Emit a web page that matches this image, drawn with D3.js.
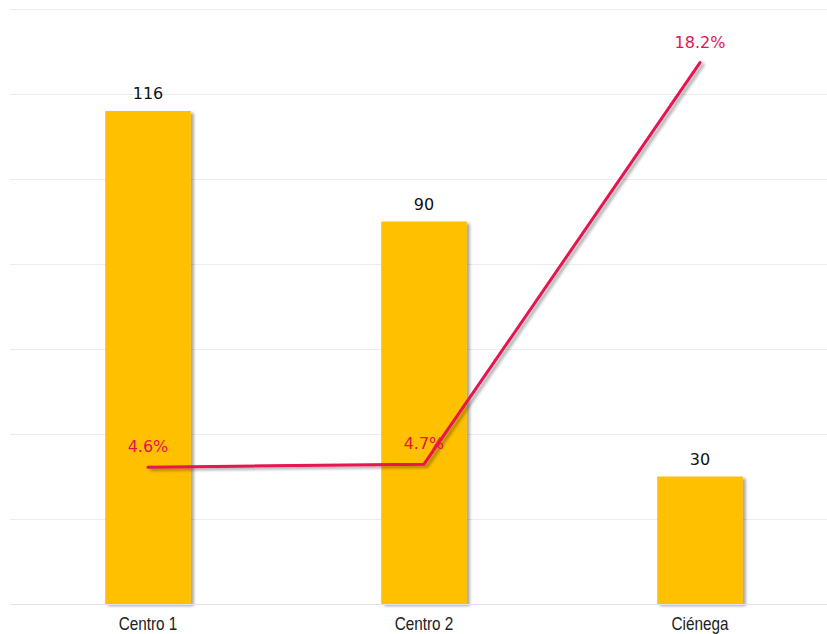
<!DOCTYPE html>
<meta charset="utf-8">
<style>
    body { margin: 0; background: #fff; }
    .grid line { stroke: #ececec; stroke-width: 1; }
    .bar { fill: #FFC000; }
    .bar-label { font-family: "DejaVu Sans", sans-serif; font-size: 16px; fill: #111; text-anchor: middle; }
    .pct-label { font-family: "DejaVu Sans", sans-serif; font-size: 16px; fill: #E8124F; text-anchor: middle; }
    .axis--x text { font-family: "Liberation Sans", Arial, sans-serif; font-size: 18px; fill: #222; }
    .axis--x path { stroke: #e4e0f2; }
    .axis--x line { display: none; }
</style>
<svg width="827" height="634"></svg>
<script src="https://d3js.org/d3.v7.min.js"></script>
<script>

    var categories = ["Centro 1", "Centro 2", "Ciénega"],
        counts = [116, 90, 30],
        rates = [4.6, 4.7, 18.2],
        countTicks = [0, 20, 40, 60, 80, 100, 120, 140];

    var svg = d3.select("svg"),
        plot = {left: 10, right: 838, top: 9, bottom: 604};

    var x = d3.scaleBand().domain(categories).range([plot.left, plot.right])
            .paddingInner(0.69).paddingOuter(0.345),
        y = d3.scaleLinear().domain([0, 140]).range([plot.bottom, plot.top]),
        y2 = d3.scaleLinear().domain([0, 20]).range([plot.bottom, plot.top]);

    var defs = svg.append("defs");
    defs.append("filter").attr("id", "shadow")
        .attr("x", "-20%").attr("y", "-20%").attr("width", "140%").attr("height", "140%")
        .append("feDropShadow")
        .attr("dx", 3).attr("dy", 2).attr("stdDeviation", 1.5)
        .attr("flood-color", "#000").attr("flood-opacity", 0.35);

    // gridlines
    svg.append("g").attr("class", "grid")
        .selectAll("line").data(countTicks.slice(1))
        .enter().append("line")
        .attr("x1", plot.left).attr("x2", 827)
        .attr("y1", function(d) { return y(d) + 0.5; })
        .attr("y2", function(d) { return y(d) + 0.5; });

    // bars
    svg.selectAll(".bar")
        .data(counts)
        .enter().append("rect")
        .attr("class", "bar")
        .attr("filter", "url(#shadow)")
        .attr("x", function(d, i) { return x(categories[i]); })
        .attr("y", function(d) { return y(d); })
        .attr("width", x.bandwidth())
        .attr("height", function(d) { return plot.bottom - y(d); });

    svg.selectAll(".bar-label")
        .data(counts)
        .enter().append("text")
        .attr("class", "bar-label")
        .attr("x", function(d, i) { return x(categories[i]) + x.bandwidth() / 2; })
        .attr("y", function(d) { return y(d) - 12; })
        .text(function(d) { return d; });

    // x axis
    var xAxis = svg.append("g")
        .attr("class", "axis axis--x")
        .attr("transform", "translate(0," + (plot.bottom + 0.5) + ")")
        .call(d3.axisBottom(x).tickSize(0).tickPadding(13));
    xAxis.select(".domain").attr("d", "M" + plot.left + ",0H827");
    xAxis.selectAll("text").attr("transform", "scale(0.85,1)");

    // line
    var line = d3.line()
        .x(function(d, i) { return x(categories[i]) + x.bandwidth() / 2; })
        .y(function(d) { return y2(d); });

    svg.append("path")
        .datum(rates)
        .attr("fill", "none")
        .attr("stroke", "#E8124F")
        .attr("stroke-width", 3)
        .attr("stroke-linecap", "round")
        .attr("filter", "url(#shadow)")
        .attr("d", line);

    svg.selectAll(".pct-label")
        .data(rates)
        .enter().append("text")
        .attr("class", "pct-label")
        .attr("x", function(d, i) { return x(categories[i]) + x.bandwidth() / 2; })
        .attr("y", function(d) { return y2(d) - 15; })
        .text(function(d) { return d.toFixed(1) + "%"; });
</script>
